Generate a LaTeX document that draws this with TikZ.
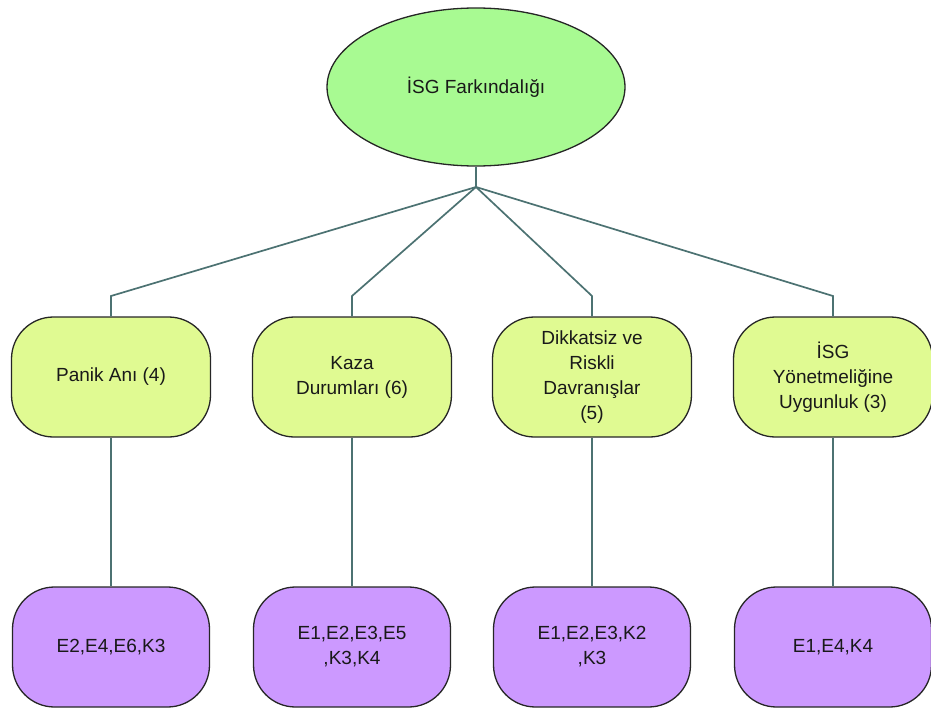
\documentclass[tikz,border=0pt]{standalone}
\usepackage{fontspec}
\setmainfont{Liberation Sans}
\usetikzlibrary{shapes.geometric}
\definecolor{rootfill}{HTML}{A8FA92}
\definecolor{midfill}{HTML}{E0FA92}
\definecolor{leaffill}{HTML}{CC99FF}
\definecolor{linkcol}{HTML}{4C7272}
\tikzset{
  base/.style={draw=black!85, line width=1.3pt, align=center, text=black!90,
    font=\fontsize{19}{25}\selectfont},
  rootnode/.style={base, ellipse, fill=rootfill, minimum width=298pt, minimum height=158pt, inner sep=0pt},
  midnode/.style={base, rectangle, rounded corners=42pt, fill=midfill, minimum width=199pt, minimum height=120pt, inner sep=0pt},
  leafnode/.style={base, rectangle, rounded corners=42pt, fill=leaffill, minimum width=197pt, minimum height=120pt, inner sep=0pt},
  link/.style={draw=linkcol, line width=1.7pt}
}
\begin{document}
\begin{tikzpicture}[x=1pt, y=-1pt]
\useasboundingbox (0,0) rectangle (931,709);

\node[rootnode] (root) at (476,87) {İSG Farkındalığı};

\node[midnode] (m1) at (111,377) {Panik Anı (4)};
\node[midnode] (m2) at (352,377) {Kaza\\Durumları (6)};
\node[midnode] (m3) at (592,377) {Dikkatsiz ve\\Riskli\\Davranışlar\\(5)};
\node[midnode] (m4) at (833,377) {İSG\\Yönetmeliğine\\Uygunluk (3)};

\node[leafnode] (b1) at (111,647) {E2,E4,E6,K3};
\node[leafnode] (b2) at (352,647) {E1,E2,E3,E5\\,K3,K4};
\node[leafnode] (b3) at (592,647) {E1,E2,E3,K2\\,K3};
\node[leafnode] (b4) at (833,647) {E1,E4,K4};

% branching point below the root
\coordinate (j) at (476,187);
\draw[link] (root.south) -- (j);
\foreach \m in {m1,m2,m3,m4}{
  \draw[link] (j) -- (\m.north |- 0,296) -- (\m.north);
}
\foreach \m/\b in {m1/b1,m2/b2,m3/b3,m4/b4}{
  \draw[link] (\m.south) -- (\b.north);
}
\end{tikzpicture}
\end{document}
